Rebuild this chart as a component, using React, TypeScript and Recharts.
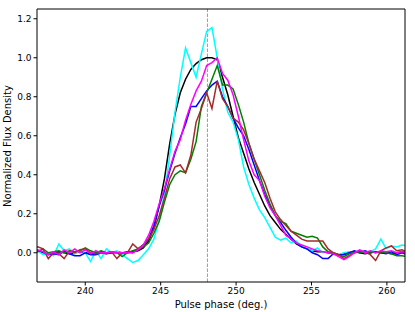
import { LineChart, Line, XAxis, YAxis, ReferenceLine } from "recharts";

// pulse phase grid (deg.)
const phase = [
  236.5, 236.85, 237.2, 237.55, 237.9, 238.25, 238.6, 238.95, 239.3, 239.65,
  240.0, 240.35, 240.7, 241.05, 241.4, 241.75, 242.1, 242.45, 242.8, 243.15,
  243.5, 243.85, 244.2, 244.55, 244.9, 245.25, 245.6, 245.95, 246.3, 246.65,
  247.0, 247.35, 247.7, 248.05, 248.4, 248.75, 249.1, 249.45, 249.8, 250.15,
  250.5, 250.85, 251.2, 251.55, 251.9, 252.25, 252.6, 252.95, 253.3, 253.65,
  254.0, 254.35, 254.7, 255.05, 255.4, 255.75, 256.1, 256.45, 256.8, 257.15,
  257.5, 257.85, 258.2, 258.55, 258.9, 259.25, 259.6, 259.95, 260.3, 260.65,
  261.0, 261.35,
];

const black = [
  0.005, 0.01, 0.0, -0.005, 0.0, 0.005, 0.0, -0.005, 0.0, 0.005,
  0.0, -0.005, 0.0, 0.005, 0.0, 0.0, 0.005, 0.0, 0.0, 0.005,
  0.01, 0.025, 0.06, 0.13, 0.24, 0.38, 0.56, 0.71, 0.82, 0.89,
  0.94, 0.97, 0.99, 1.0, 1.0, 0.99, 0.9, 0.81, 0.7, 0.59,
  0.51, 0.43, 0.36, 0.3, 0.24, 0.19, 0.155, 0.12, 0.095, 0.07,
  0.045, 0.03, 0.02, 0.01, 0.005, 0.005, 0.0, -0.005, -0.01, -0.005,
  0.0, 0.005, 0.0, -0.005, 0.0, 0.005, 0.0, 0.0, -0.005, 0.0,
  0.005, 0.0,
];

const cyan = [
  0.0, 0.01, -0.01, 0.0, -0.015, 0.045, 0.01, 0.02, -0.005, 0.01,
  0.0, -0.045, 0.01, -0.03, 0.02, 0.0, 0.01, -0.01, -0.03, -0.05,
  -0.04, -0.01, 0.02, 0.07, 0.17, 0.3, 0.5, 0.72, 0.9, 1.05,
  0.975, 0.9, 1.02, 1.135, 1.155, 1.0, 0.84, 0.72, 0.67, 0.58,
  0.44, 0.35, 0.28, 0.22, 0.18, 0.13, 0.08, 0.065, 0.075, 0.05,
  0.06, 0.03, 0.02, 0.01, 0.025, 0.0, 0.005, -0.005, -0.01, 0.0,
  0.005, 0.0, 0.01, 0.0, 0.005, 0.02, 0.07, 0.02, 0.035, 0.03,
  0.04, 0.035,
];

const blue = [
  0.0, 0.01, 0.005, -0.01, -0.005, -0.01, 0.01, -0.005, -0.015, -0.015,
  0.0, -0.01, -0.01, 0.0, -0.005, 0.0, 0.0, 0.0, 0.005, 0.0,
  0.02, 0.04, 0.07, 0.14, 0.24, 0.32, 0.42, 0.51, 0.59, 0.66,
  0.75, 0.75, 0.79, 0.83, 0.86, 0.88, 0.8, 0.75, 0.69, 0.64,
  0.6, 0.53, 0.45, 0.37, 0.3, 0.24, 0.19, 0.155, 0.115, 0.08,
  0.05, 0.03, 0.02, 0.0, -0.01, -0.03, -0.03, -0.005, -0.01, -0.01,
  0.0, 0.01, 0.0, 0.01, 0.0, 0.005, 0.0, -0.005, 0.005, -0.01,
  0.0, -0.01,
];

const green = [
  0.0, 0.005, 0.02, 0.0, 0.005, 0.01, 0.0, 0.01, 0.005, 0.01,
  0.025, 0.01, 0.0, 0.01, 0.0, 0.005, 0.0, -0.02, 0.0, 0.01,
  0.02, 0.03, 0.05, 0.1, 0.16, 0.26, 0.35, 0.4, 0.42, 0.41,
  0.48, 0.57, 0.75, 0.82, 0.89, 0.96, 0.86, 0.86, 0.84, 0.76,
  0.67, 0.56, 0.48, 0.4, 0.32, 0.25, 0.19, 0.16, 0.15, 0.11,
  0.1, 0.09, 0.08, 0.085, 0.075, 0.03, 0.005, 0.0, -0.01, -0.02,
  -0.005, 0.0, 0.005, 0.0, 0.005, 0.0, 0.005, 0.0, -0.005, -0.015,
  -0.015, -0.02,
];

const brown = [
  0.02, 0.03, 0.02, -0.03, 0.0, -0.005, -0.03, 0.01, 0.0, 0.015,
  0.02, 0.0, -0.005, 0.0, -0.005, 0.005, -0.03, 0.0, 0.0, 0.045,
  0.02, 0.04, 0.07, 0.12, 0.19, 0.28, 0.38, 0.44, 0.45, 0.41,
  0.5, 0.67, 0.74, 0.82, 0.74, 0.88, 0.79, 0.75, 0.69, 0.67,
  0.63, 0.56, 0.48, 0.42, 0.36, 0.28, 0.21, 0.17, 0.14, 0.11,
  0.09, 0.07, 0.06, 0.06, 0.06, 0.06, 0.02, 0.0, -0.01, -0.03,
  -0.015, 0.0, 0.01, 0.005, -0.01, -0.04, 0.01, 0.025, 0.035, 0.01,
  0.015, 0.005,
];

const magenta = [
  0.01, 0.015, 0.005, -0.01, 0.005, -0.01, 0.015, 0.0, 0.02, 0.0,
  0.015, -0.005, 0.01, 0.0, 0.0, 0.005, 0.0, 0.0, 0.0, 0.0,
  0.015, 0.04, 0.09, 0.16, 0.25, 0.33, 0.43, 0.52, 0.58, 0.68,
  0.76, 0.83, 0.88, 0.96, 0.975, 1.0, 0.92, 0.885, 0.81, 0.7,
  0.58, 0.47, 0.4, 0.37, 0.29, 0.23, 0.19, 0.14, 0.09, 0.07,
  0.05, 0.04, 0.03, 0.02, 0.01, 0.005, 0.0, -0.005, -0.02, -0.035,
  -0.02, 0.0, 0.015, 0.0, 0.01, 0.0, 0.01, 0.005, 0.01, 0.0,
  0.005, 0.0,
];

const xTicks = [240, 245, 250, 255, 260];
const yTicks = [0, 0.2, 0.4, 0.6, 0.8, 1.0, 1.2];
const markerPhase = 248.1;

const SERIES = [
  { key: "black", color: "#000000", values: black },
  { key: "cyan", color: "#00ffff", values: cyan },
  { key: "blue", color: "#0000ff", values: blue },
  { key: "green", color: "#008000", values: green },
  { key: "brown", color: "#a52a2a", values: brown },
  { key: "magenta", color: "#ff00ff", values: magenta },
];

const data = phase.map((p, i) => {
  const row: Record<string, number> = { phase: p };
  SERIES.forEach((s) => {
    row[s.key] = s.values[i];
  });
  return row;
});

const FONT = "'DejaVu Sans', sans-serif";
const X_DOMAIN = [236.8, 261.2];
const Y_DOMAIN = [-0.15, 1.25];

export default function App() {
  const tickStyle = { fontSize: 9, fill: "#000", fontFamily: FONT };
  return (
    <div style={{ position: "absolute", left: 0, top: 0, width: 415, height: 312, background: "#fff", fontFamily: FONT }}>
      <LineChart width={415} height={312} data={data} margin={{ top: 8, right: 9, bottom: 0, left: 0 }}>
        <XAxis
          dataKey="phase"
          type="number"
          domain={X_DOMAIN}
          ticks={xTicks}
          allowDataOverflow
          height={30}
          tickSize={3.5}
          tickMargin={2}
          tick={tickStyle}
          stroke="#000"
        />
        <XAxis xAxisId="top" orientation="top" type="number" domain={X_DOMAIN} height={1} tick={false} tickLine={false} stroke="#000" />
        <YAxis
          type="number"
          domain={Y_DOMAIN}
          ticks={yTicks}
          allowDataOverflow
          width={37}
          tickSize={3.5}
          tickMargin={2}
          tick={tickStyle}
          tickFormatter={(v: number) => v.toFixed(1)}
          stroke="#000"
        />
        <YAxis yAxisId="right" orientation="right" type="number" domain={Y_DOMAIN} width={1} tick={false} tickLine={false} stroke="#000" />
        <ReferenceLine x={markerPhase} stroke="#808080" strokeWidth={0.8} strokeDasharray="3.5 1.5" />
        {SERIES.map((s) => (
          <Line
            key={s.key}
            dataKey={s.key}
            stroke={s.color}
            strokeWidth={1.5}
            dot={false}
            type="linear"
            isAnimationActive={false}
          />
        ))}
      </LineChart>
      <div
        style={{
          position: "absolute",
          left: 7,
          top: 146,
          transform: "translate(-50%, -50%) rotate(-90deg)",
          whiteSpace: "nowrap",
          fontSize: 10,
        }}
      >
        Normalized Flux Density
      </div>
      <div
        style={{
          position: "absolute",
          left: 221,
          top: 304,
          transform: "translate(-50%, -50%)",
          whiteSpace: "nowrap",
          fontSize: 10,
        }}
      >
        Pulse phase (deg.)
      </div>
    </div>
  );
}
